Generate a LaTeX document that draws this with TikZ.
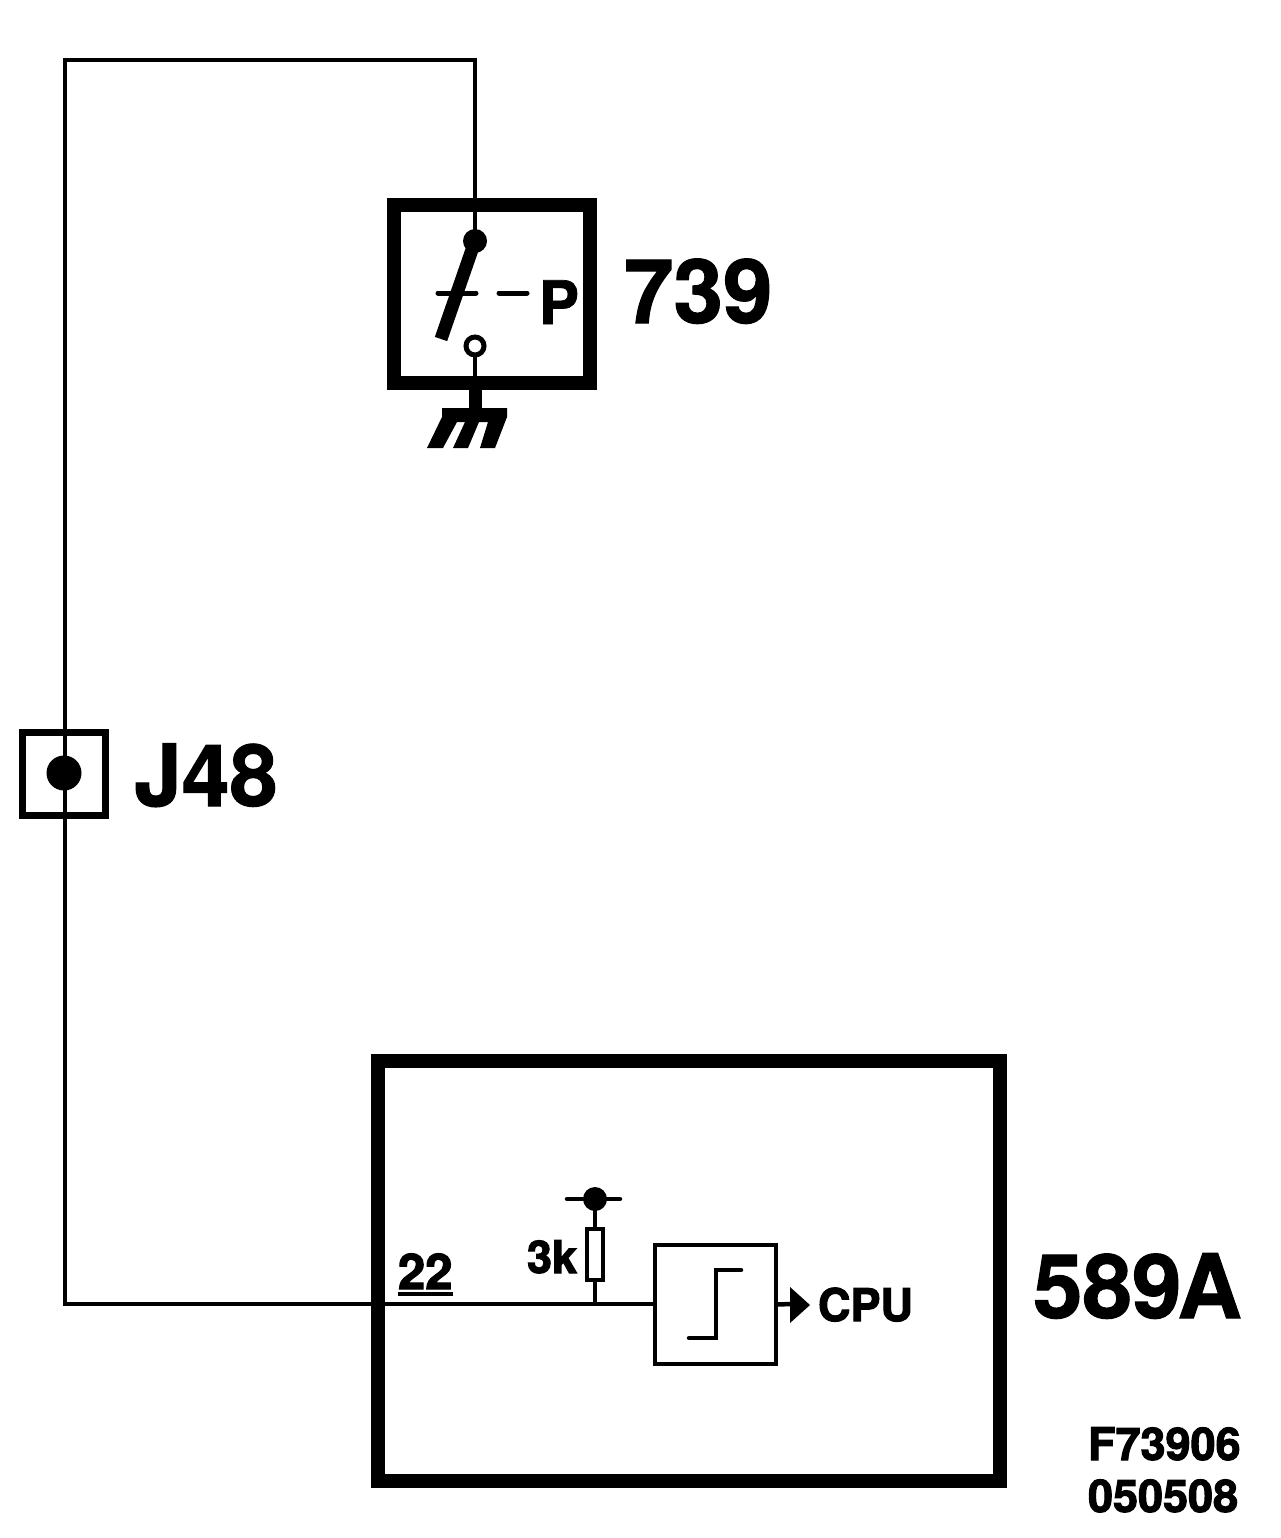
\documentclass[tikz,border=0pt]{standalone}
\usepackage{fontspec}
\newfontfamily\bigfont{TeX Gyre Heros Bold}[FakeBold=1.2]
\newfontfamily\smallfont{TeX Gyre Heros Bold}[FakeBold=2.4]
\newcommand{\lbl}[1]{\fontsize{#1}{#1}\bigfont}
\newcommand{\lbs}[1]{\fontsize{#1}{#1}\smallfont}
\tikzset{
  wire/.style={line width=4.5pt,line join=miter},
  frame/.style={draw,inner sep=0pt,outer sep=0pt,line join=miter},
  thickframe/.style={frame,line width=14pt},
  txt/.style={inner sep=0pt,outer sep=0pt,anchor=base west},
  dotnode/.style={circle,fill,inner sep=0pt,outer sep=0pt},
}
\begin{document}
\begin{tikzpicture}[x=1pt,y=-1pt]
\useasboundingbox (0,0) rectangle (1280,1538);
% boxes
\node[thickframe,minimum width=196pt,minimum height=178pt] (sw) at (492,294) {};
\node[thickframe,minimum width=622pt,minimum height=420pt] (ecu) at (689,1271) {};
\node[frame,line width=7pt,minimum width=83pt,minimum height=83pt] (j48) at (63.5,773.5) {};
\node[frame,line width=4.5pt,minimum width=121pt,minimum height=119pt] (trig) at (715.5,1304.5) {};
\node[frame,line width=4.5pt,minimum width=16pt,minimum height=51pt] (res) at (595,1254.5) {};
% dots
\node[dotnode,minimum size=24pt] (swdot) at (475,241) {};
\node[dotnode,minimum size=35pt] (jdot) at (64,773) {};
\node[dotnode,minimum size=24pt] (vdot) at (595,1199) {};
\node[circle,draw,line width=5pt,inner sep=0pt,outer sep=0pt,minimum size=18pt] (swopen) at (475,346) {};
% junction coordinates
\coordinate (tl) at (65,60);
\coordinate (tr) at (475,60);
\coordinate (bl) at (65,1304);
\coordinate (ecuin) at (378,1304);
\coordinate (resj) at (595,1304);
\coordinate (trigin) at (653,1304);
\coordinate (swbot) at (475,383);
\coordinate (levend) at (441,339);
\coordinate (gndtop) at (475,408);
% wiring
\draw[wire] (swdot.center) -- (tr) -- (tl) -- (bl) -- (ecuin) -- (trigin);
\draw[wire] (swopen.south) -- (swbot);
\draw[wire] (res.south) -- (resj);
\draw[wire] (res.north) -- (vdot.center);
\draw[wire,line cap=round] (567,1199) -- (vdot.center) -- (620,1199);
% switch
\draw[line width=13pt] (swdot.center) -- (levend);
\draw[line width=5pt,line cap=round] (438,293) -- (476,293);
\draw[line width=5pt,line cap=round] (499,293) -- (527,293);
% ground
\draw[line width=13pt] (swbot) ++(0,7) -- (gndtop);
\fill (442,408) -- (507,408) -- (507,417) -- (495,448) -- (480,448) -- (488,422) -- (479,422) -- (468,448) -- (453,448) -- (465,422) -- (457,422) -- (443,448) -- (427,448) -- (442,417) -- cycle;
% trigger step
\draw[line width=4.5pt,line cap=round] (689,1338) -- (716,1338) -- (716,1270) -- (741,1270);
% output arrow
\draw[wire] (trig.east) -- (792,1304);
\fill (790,1287) -- (810,1305) -- (790,1323) -- cycle;
% labels
\node[txt] (t739) at (624,323) {\lbl{89}739};
\node[txt] (tj48) at (134,806) {\lbl{86}J48};
\node[txt] (t589) at (1033,1318) {\lbl{89}589\kern-4pt A};
\node[txt] (tP) at (539,324) {\lbl{60}P};
\node[txt] (t22) at (398,1289) {\lbs{49}22};
\draw[line width=4pt] (398,1294) -- (453,1294);
\node[txt] (t3k) at (527,1273) {\lbs{45}3k};
\node[txt] (tcpu) at (818,1321) {\lbs{45}CPU};
\node[txt] (tf) at (1088,1460) {\lbs{45}F73906};
\node[txt] (td) at (1088,1512) {\lbs{45}050508};
\end{tikzpicture}
\end{document}
